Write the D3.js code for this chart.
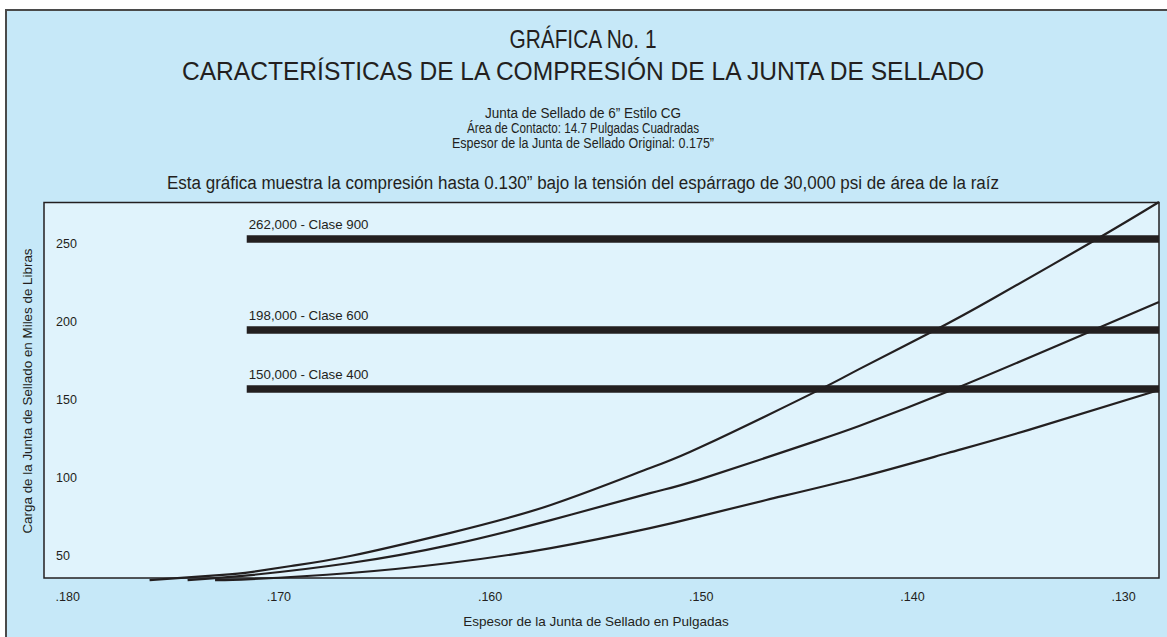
<!DOCTYPE html>
<html><head><meta charset="utf-8">
<script src="https://cdn.jsdelivr.net/npm/d3@7"></script>
<style>
html,body{margin:0;padding:0;background:#fff;}
svg{display:block;}
</style></head>
<body>
<script>
// ---- data ----
const titleLines = ["GRÁFICA No. 1", "CARACTERÍSTICAS DE LA COMPRESIÓN DE LA JUNTA DE SELLADO"];
const subtitleLines = ["Junta de Sellado de 6” Estilo CG", "Área de Contacto: 14.7 Pulgadas Cuadradas", "Espesor de la Junta de Sellado Original: 0.175”"];
const noteText = "Esta gráfica muestra la compresión hasta 0.130” bajo la tensión del espárrago de 30,000 psi de área de la raíz";
const xTicks = [0.180, 0.170, 0.160, 0.150, 0.140, 0.130];
const yTicks = [50, 100, 150, 200, 250];
const xTitle = "Espesor de la Junta de Sellado en Pulgadas";
const yTitle = "Carga de la Junta de Sellado en Miles de Libras";
// horizontal class limits (label, plotted level in thousands of lb, start thickness)
const limitLabels = ["262,000 - Clase 900", "198,000 - Clase 600", "150,000 - Clase 400"];
const limitLevels = [252.6, 194.2, 156.4];
const limitStart = 0.1715;
// compression curves: thickness (in) vs load (thousands lb)
const curveA_x = [0.1761, 0.1728, 0.1713, 0.1694, 0.1666, 0.1619, 0.1571, 0.1524, 0.1500, 0.1447, 0.1425, 0.1388, 0.1362, 0.1314, 0.1283];
const curveA_y = [34.0, 37.2, 39.1, 43.0, 49.4, 64.1, 82.1, 105.8, 119.2, 153.8, 169.2, 194.9, 214.1, 251.3, 276.3];
const curveB_x = [0.1743, 0.1713, 0.1666, 0.1619, 0.1571, 0.1524, 0.1500, 0.1447, 0.1425, 0.1380, 0.1314, 0.1283];
const curveB_y = [34.0, 37.2, 44.9, 56.4, 72.4, 89.7, 98.7, 122.4, 132.7, 156.4, 194.2, 212.2];
const curveC_x = [0.1730, 0.1713, 0.1666, 0.1619, 0.1571, 0.1524, 0.1500, 0.1469, 0.1426, 0.1383, 0.1345, 0.1283];
const curveC_y = [34.0, 34.6, 38.5, 44.9, 54.5, 67.3, 75.0, 85.3, 99.4, 115.4, 130.1, 155.8];

// ---- drawing ----
const W = 1167, H = 637;
const plot = {l: 44, t: 202.5, r: 1159, b: 578};
const ink = "#231f20";
const sans = "'Liberation Sans', Arial, Helvetica, sans-serif";

const svg = d3.select("body").append("svg").attr("width", W).attr("height", H);

// outer panel
svg.append("rect").attr("x", 6).attr("y", 10).attr("width", W + 10).attr("height", H + 10)
  .attr("fill", "#c6e8f8").attr("stroke", "#4a4a4a").attr("stroke-width", 2);

const x = d3.scaleLinear().domain([0.1811, 0.1283]).range([plot.l, plot.r]);
const y = d3.scaleLinear().domain([35.3, 276.0]).range([plot.b, plot.t]);

// plot area
svg.append("rect").attr("x", plot.l).attr("y", plot.t)
  .attr("width", plot.r - plot.l).attr("height", plot.b - plot.t)
  .attr("fill", "#e0f3fc").attr("stroke", ink).attr("stroke-width", 1.5);

// header texts (condensed look via textLength)
const cx = 583;
const header = [
  {t: titleLines[0], y: 48, size: 25, w: 147},
  {t: titleLines[1], y: 80, size: 25, w: 802},
  {t: subtitleLines[0], y: 118, size: 14, w: 196},
  {t: subtitleLines[1], y: 133, size: 14, w: 232},
  {t: subtitleLines[2], y: 148, size: 14, w: 262},
  {t: noteText, y: 189, size: 18, w: 832}
];
svg.append("g").selectAll("text").data(header).join("text")
  .attr("x", cx).attr("y", d => d.y)
  .attr("text-anchor", "middle").attr("font-family", sans).attr("font-size", d => d.size)
  .attr("textLength", d => d.w).attr("lengthAdjust", "spacingAndGlyphs")
  .attr("fill", ink).text(d => d.t);

// y axis (labels inside plot)
const yAxis = svg.append("g").attr("transform", `translate(${plot.l + 12},0)`)
  .call(d3.axisRight(y).tickValues(yTicks).tickSize(0).tickFormat(d3.format("d")));
yAxis.select(".domain").remove();
yAxis.selectAll("text").attr("x", 0).attr("font-family", sans).attr("font-size", 12.5).attr("fill", ink);

// x axis
const xAxis = svg.append("g").attr("transform", `translate(0,${plot.b})`)
  .call(d3.axisBottom(x).tickValues(xTicks).tickSize(0).tickFormat(d => d3.format(".3f")(d).replace(/^0/, "")));
xAxis.select(".domain").remove();
xAxis.selectAll("text").attr("dy", 0).attr("y", 23).attr("font-family", sans).attr("font-size", 12.5).attr("fill", ink);

// axis titles
svg.append("text").attr("x", 596).attr("y", 626).attr("text-anchor", "middle")
  .attr("font-family", sans).attr("font-size", 13.5).attr("fill", ink).text(xTitle);
svg.append("text").attr("transform", "translate(32,391) rotate(-90)").attr("text-anchor", "middle")
  .attr("font-family", sans).attr("font-size", 13.4).attr("fill", ink).text(yTitle);

// class limit bars
const limits = limitLevels.map((v, i) => ({v, label: limitLabels[i]}));
svg.append("g").selectAll("line").data(limits).join("line")
  .attr("x1", x(limitStart)).attr("x2", plot.r)
  .attr("y1", d => y(d.v)).attr("y2", d => y(d.v))
  .attr("stroke", ink).attr("stroke-width", 7.5);
svg.append("g").selectAll("text").data(limits).join("text")
  .attr("x", x(limitStart) + 2).attr("y", d => y(d.v) - 10)
  .attr("font-family", sans).attr("font-size", 13.3).attr("fill", ink).text(d => d.label);

// curves
const curves = [[curveA_x, curveA_y], [curveB_x, curveB_y], [curveC_x, curveC_y]]
  .map(([xs, ys]) => xs.map((v, i) => [v, ys[i]]));
const line = d3.line().x(d => x(d[0])).y(d => y(d[1])).curve(d3.curveNatural);
svg.append("g").selectAll("path").data(curves).join("path")
  .attr("d", line).attr("fill", "none").attr("stroke", ink).attr("stroke-width", 2.2);
</script>
</body></html>
